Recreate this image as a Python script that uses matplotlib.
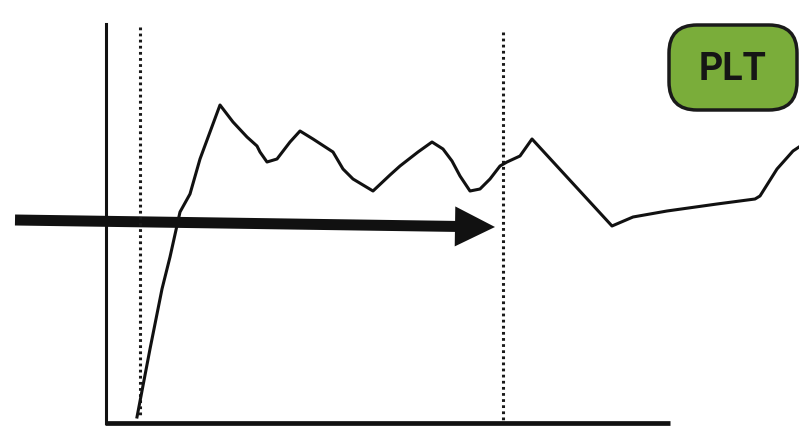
import matplotlib.pyplot as plt
from matplotlib.patches import FancyBboxPatch

# picture is measured in pixel units: x to the right, y downwards
W, H = 799, 439

# platelet curve
curve_x = [137, 150, 162, 170, 180, 190, 200, 210, 220, 233, 247, 257, 260, 267,
           277, 290, 300, 313, 333, 343, 353, 373, 390, 400, 418, 432, 443, 452,
           460, 470, 480, 490, 500, 507, 520, 532, 612, 633, 667,
           717, 755, 760, 777, 793, 799]
curve_y = [418, 350, 290, 258, 213, 195, 160, 133, 106, 123, 138, 147, 153, 163,
           160, 143, 132, 140, 153, 170, 180, 192, 176, 167, 153, 143, 150, 162,
           177, 192, 190, 180, 167, 163, 157, 140, 227, 218, 212,
           205, 200, 197, 170, 152, 148]

# axes
y_axis_x, y_axis_top = 106, 25
x_axis_y, x_axis_end = 424, 670

# dotted markers
marker_x = [140, 503]
marker_top = [28, 33]
marker_bottom = [418, 424]

# arrow
arrow_start = (15, 221)
arrow_end = (495, 228)

label = 'PLT'
badge_box = (669, 26, 128, 85)  # x, y, w, h

fig = plt.figure(figsize=(W / 100, H / 100), dpi=100)
ax = fig.add_axes([0, 0, 1, 1])
ax.set_xlim(0, W)
ax.set_ylim(H, 0)
ax.axis('off')

ax.plot([y_axis_x, y_axis_x], [y_axis_top, x_axis_y], color='#111111', lw=2.2)
ax.plot([y_axis_x - 1, x_axis_end], [x_axis_y, x_axis_y], color='#111111',
        lw=3.4, solid_capstyle='butt')

for mx, t, b in zip(marker_x, marker_top, marker_bottom):
    ax.plot([mx, mx], [t, b], color='#1a1a1a', lw=2.2, linestyle=(0, (0.9, 1.1)))

ax.plot(curve_x, curve_y, color='#111111', lw=2.2, solid_joinstyle='round')

dx = arrow_end[0] - arrow_start[0]
dy = arrow_end[1] - arrow_start[1]
ax.arrow(arrow_start[0], arrow_start[1], dx, dy, width=11, head_width=40,
         head_length=40, length_includes_head=True, color='#111111', lw=0)

bx, by, bw, bh = badge_box
r = 28
badge = FancyBboxPatch((bx + r, by + r), bw - 2 * r, bh - 2 * r,
                       boxstyle='round,pad=%d' % r, facecolor='#7aad3a',
                       edgecolor='#1a1a1a', lw=2.5)
ax.add_patch(badge)
ax.text(bx + bw / 2, by + bh / 2 + 1, label, ha='center', va='center',
        fontsize=27, fontweight='bold', color='#151515',
        family=['Roboto', 'DejaVu Sans'])

fig.savefig('out.png', dpi=100, facecolor='white')
